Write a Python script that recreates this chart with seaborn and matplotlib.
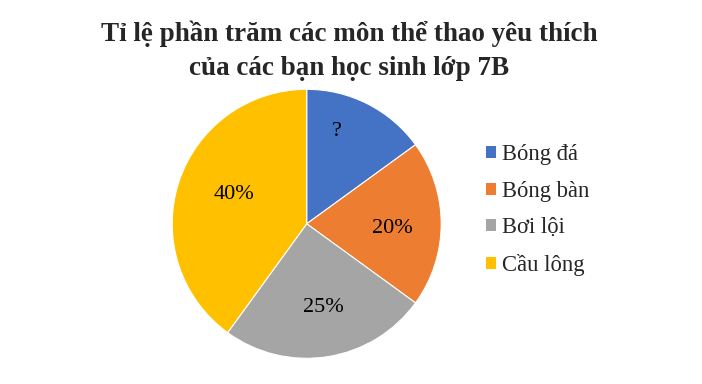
import matplotlib
matplotlib.use("Agg")
import matplotlib.pyplot as plt
import seaborn as sns
import numpy as np
from matplotlib.patches import Patch

sns.set_theme(style="white")
plt.rcParams['font.family'] = ['Liberation Serif', 'DejaVu Serif']

categories = ["Bóng đá", "Bóng bàn", "Bơi lội", "Cầu lông"]
values = [15, 20, 25, 40]
labels = ["?", "20%", "25%", "40%"]
colors = ["#4472C4", "#ED7D31", "#A5A5A5", "#FFC000"]
# label placement (style): radial distance and angle offset from wedge middle
label_dist = [0.72, 0.64, 0.632, 0.58]
label_ang_off = [8.7, -3.0, 2.3, -4.2]
title = "Tỉ lệ phần trăm các môn thể thao yêu thích\ncủa các bạn học sinh lớp 7B"

fig = plt.figure(figsize=(7.02, 3.84), dpi=100)
fig.patch.set_facecolor("white")
ax = fig.add_axes([172.2/702, (384-358.3)/384, 269/702, 269/384])
wedges, _ = ax.pie(values, colors=colors, startangle=90, counterclock=False,
                   wedgeprops=dict(edgecolor="white", linewidth=0.8))
for w, lab, d, off in zip(wedges, labels, label_dist, label_ang_off):
    ang = np.deg2rad((w.theta1 + w.theta2) / 2 + off)
    ax.text(d*np.cos(ang), d*np.sin(ang), lab, ha="center", va="center",
            fontsize=16, color="#000000")
ax.set_xlim(-1, 1)
ax.set_ylim(-1, 1)
ax.set_aspect("equal")
ax.axis("off")

fig.text(349/702, 1 - 51/384, title, ha="center", va="center", fontsize=19.5,
         fontweight="bold", linespacing=1.46, multialignment="center")

handles = [Patch(facecolor=c, edgecolor="none") for c in colors]
fig.legend(handles, categories, loc="center left",
           bbox_to_anchor=(486/702, 1 - 210/384), frameon=False, fontsize=16.3,
           handlelength=0.44, handleheight=0.44, handletextpad=0.28,
           labelspacing=0.68, borderpad=0, borderaxespad=0)

fig.savefig("out.png", dpi=100, facecolor="white")
